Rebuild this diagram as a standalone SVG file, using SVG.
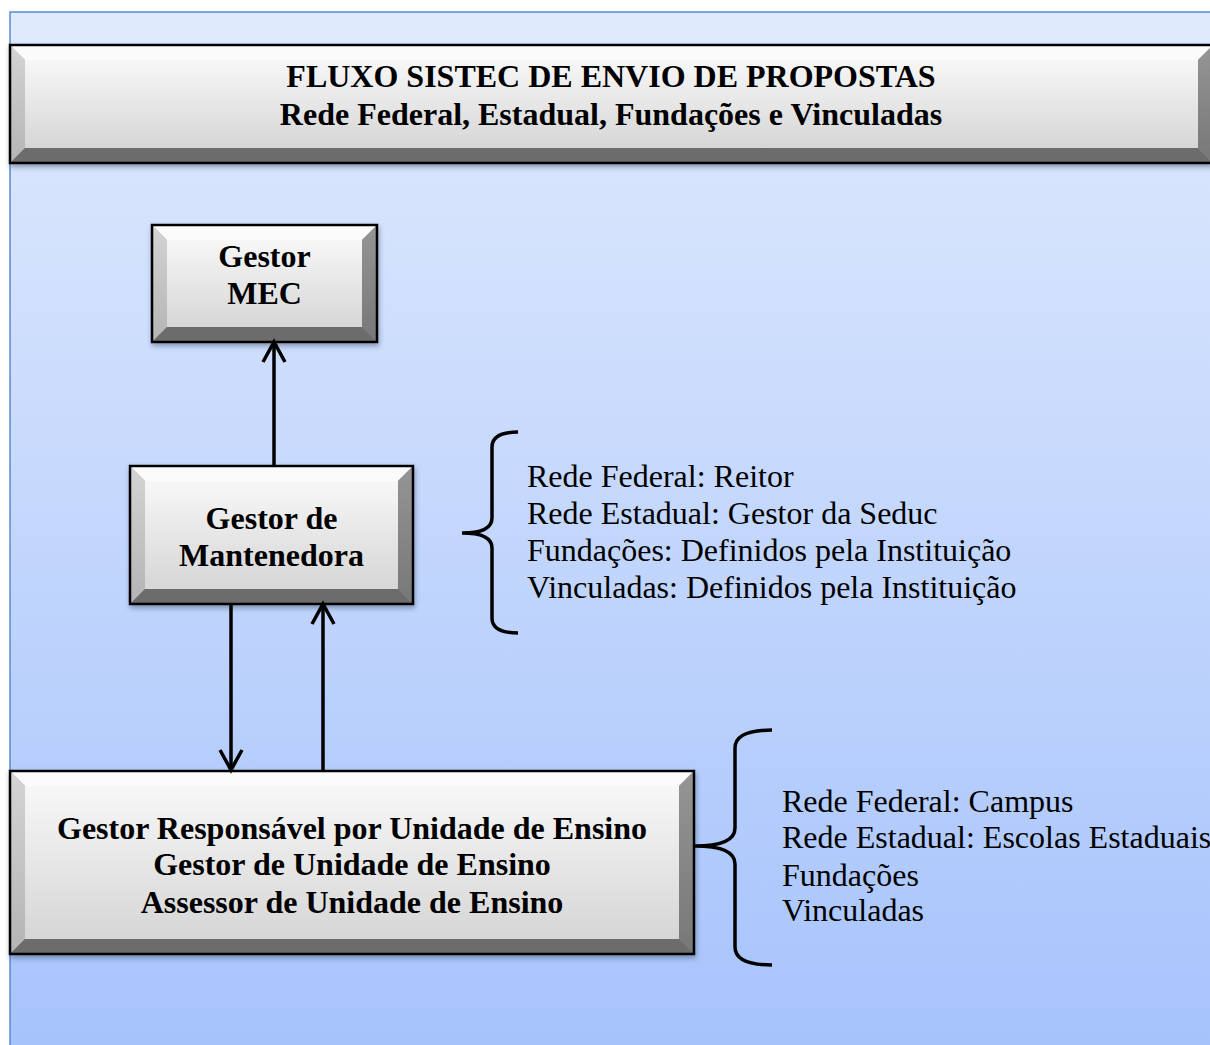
<svg xmlns="http://www.w3.org/2000/svg" width="1210" height="1045" viewBox="0 0 1210 1045">
<defs>
<linearGradient id="bg" x1="0" y1="0" x2="0" y2="1">
<stop offset="0" stop-color="#e0eafd"/>
<stop offset="1" stop-color="#a6c3fc"/>
</linearGradient>
<linearGradient id="face" x1="0" y1="0" x2="0" y2="1">
<stop offset="0" stop-color="#f7f7f7"/>
<stop offset="1" stop-color="#d6d6d6"/>
</linearGradient>
<linearGradient id="lbev" x1="0" y1="0" x2="0" y2="1">
<stop offset="0" stop-color="#d4d4d4"/>
<stop offset="1" stop-color="#b4b4b4"/>
</linearGradient>
<linearGradient id="rbev" x1="0" y1="0" x2="0" y2="1">
<stop offset="0" stop-color="#959595"/>
<stop offset="1" stop-color="#777777"/>
</linearGradient>
<filter id="sh" x="-5%" y="-10%" width="110%" height="125%">
<feDropShadow dx="1" dy="3" stdDeviation="2.5" flood-color="#33415a" flood-opacity="0.45"/>
</filter>
<marker id="arr" viewBox="-2 -2 26 26" refX="19" refY="11" markerWidth="26" markerHeight="26" markerUnits="userSpaceOnUse" orient="auto" overflow="visible">
<path d="M0,0 L20,11 L0,22" fill="none" stroke="#000" stroke-width="3.5"/>
</marker>
</defs>
<style>
.top{fill:#fbfbfb}
.lft{fill:url(#lbev)}
.rgt{fill:url(#rbev)}
.bot{fill:#6c6c6c}
.face{fill:url(#face)}
.edge{fill:none;stroke:#000;stroke-width:2.5}
.bt{font-family:"Liberation Serif","Times New Roman",serif;font-weight:bold;font-size:32px;fill:#000;text-anchor:middle}
.lt{font-family:"Liberation Serif","Times New Roman",serif;font-size:32px;fill:#000}
.con{stroke:#000;stroke-width:3.5;fill:none}
</style>
<rect x="0" y="0" width="1210" height="1045" fill="#ffffff"/>
<rect x="10" y="12" width="1210" height="1045" fill="url(#bg)" stroke="#5a8ad0" stroke-width="1.5"/>

<g id="title">
<g filter="url(#sh)">
<polygon class="top" points="10,45 1213,45 1198,60 25,60"/>
<polygon class="lft" points="10,45 25,60 25,148 10,163"/>
<polygon class="rgt" points="1213,45 1213,163 1198,148 1198,60"/>
<polygon class="bot" points="10,163 25,148 1198,148 1213,163"/>
<rect class="face" x="25" y="60" width="1173" height="88"/>
<rect class="edge" x="10" y="45" width="1203" height="118"/>
</g>
<text class="bt" x="611" y="87">FLUXO SISTEC DE ENVIO DE PROPOSTAS</text>
<text class="bt" x="611" y="125">Rede Federal, Estadual, Fundações e Vinculadas</text>
</g>

<g id="gestor-mec">
<g filter="url(#sh)">
<polygon class="top" points="152,225 377,225 362,240 167,240"/>
<polygon class="lft" points="152,225 167,240 167,327 152,342"/>
<polygon class="rgt" points="377,225 377,342 362,327 362,240"/>
<polygon class="bot" points="152,342 167,327 362,327 377,342"/>
<rect class="face" x="167" y="240" width="195" height="87"/>
<rect class="edge" x="152" y="225" width="225" height="117"/>
</g>
<text class="bt" x="264.5" y="267">Gestor</text>
<text class="bt" x="264.5" y="304">MEC</text>
</g>

<g id="gestor-mantenedora">
<g filter="url(#sh)">
<polygon class="top" points="130,466 413,466 398,481 145,481"/>
<polygon class="lft" points="130,466 145,481 145,589 130,604"/>
<polygon class="rgt" points="413,466 413,604 398,589 398,481"/>
<polygon class="bot" points="130,604 145,589 398,589 413,604"/>
<rect class="face" x="145" y="481" width="253" height="108"/>
<rect class="edge" x="130" y="466" width="283" height="138"/>
</g>
<text class="bt" x="271.5" y="529">Gestor de</text>
<text class="bt" x="271.5" y="566">Mantenedora</text>
</g>

<g id="gestor-unidade">
<g filter="url(#sh)">
<polygon class="top" points="10,771 694,771 679,786 25,786"/>
<polygon class="lft" points="10,771 25,786 25,939 10,954"/>
<polygon class="rgt" points="694,771 694,954 679,939 679,786"/>
<polygon class="bot" points="10,954 25,939 679,939 694,954"/>
<rect class="face" x="25" y="786" width="654" height="153"/>
<rect class="edge" x="10" y="771" width="684" height="183"/>
</g>
<text class="bt" x="352" y="839">Gestor Responsável por Unidade de Ensino</text>
<text class="bt" x="352" y="875">Gestor de Unidade de Ensino</text>
<text class="bt" x="352" y="913">Assessor de Unidade de Ensino</text>
</g>

<g id="lista-mantenedora">
<path class="con" d="M518,432 Q492,432 492,447 L492,518 Q492,533 462,533 Q492,533 492,548 L492,618 Q492,633 518,633"/>
<text class="lt" x="527" y="487">Rede Federal: Reitor</text>
<text class="lt" x="527" y="524">Rede Estadual: Gestor da Seduc</text>
<text class="lt" x="527" y="561">Fundações: Definidos pela Instituição</text>
<text class="lt" x="527" y="598">Vinculadas: Definidos pela Instituição</text>
</g>

<g id="lista-unidade">
<path class="con" d="M772,730 Q735,730 735,748 L735,828 Q735,846 695,846 Q735,846 735,864 L735,947 Q735,965 772,965"/>
<text class="lt" x="782" y="812">Rede Federal: Campus</text>
<text class="lt" x="782" y="848">Rede Estadual: Escolas Estaduais</text>
<text class="lt" x="782" y="886">Fundações</text>
<text class="lt" x="782" y="921">Vinculadas</text>
</g>

<g id="connectors">
<line class="con" x1="274" y1="466" x2="274" y2="343" marker-end="url(#arr)"/>
<line class="con" x1="231" y1="604" x2="231" y2="769" marker-end="url(#arr)"/>
<line class="con" x1="323" y1="771" x2="323" y2="605" marker-end="url(#arr)"/>
</g>
</svg>
